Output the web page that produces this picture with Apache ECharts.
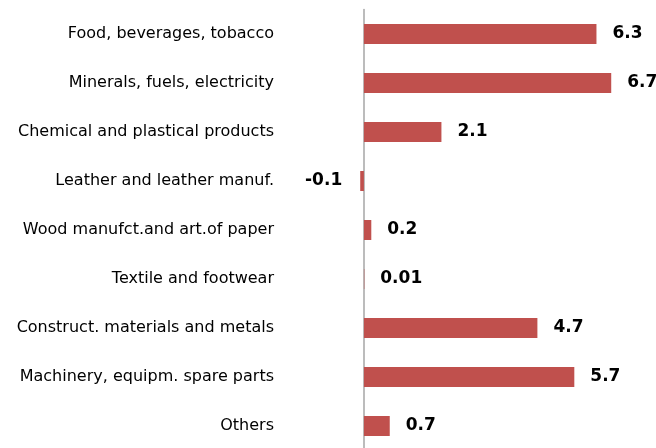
<!DOCTYPE html>
<html><head><meta charset="utf-8">
<script src="https://cdn.jsdelivr.net/npm/echarts@6/dist/echarts.min.js"></script>
<style>html,body{margin:0;padding:0;background:#fff}#c{width:656px;height:448px}</style>
</head><body><div id="c"></div>
<script>
const categories = [
  "Food, beverages, tobacco",
  "Minerals, fuels, electricity",
  "Chemical and plastical products",
  "Leather and leather manuf.",
  "Wood manufct.and art.of paper",
  "Textile and footwear",
  "Construct. materials and metals",
  "Machinery, equipm. spare parts",
  "Others"
];
const values = [6.3, 6.7, 2.1, -0.1, 0.2, 0.01, 4.7, 5.7, 0.7];

const chart = echarts.init(document.getElementById('c'));
chart.setOption({
  animation: false,
  backgroundColor: '#fff',
  grid: { left: 327, right: 33.7, top: 9.5, bottom: -2.5, containLabel: false, outerBoundsMode: 'none' },
  xAxis: {
    type: 'value', min: -1, max: 7, interval: 1,
    show: false
  },
  yAxis: {
    type: 'category', data: categories, inverse: true,
    axisLine: { show: true, onZero: true, lineStyle: { color: '#a6a6a6', width: 1.5 } },
    axisTick: { show: false },
    axisLabel: { margin: 53, color: '#000', fontFamily: 'DejaVu Sans', fontSize: 16 }
  },
  series: [{
    type: 'bar', barWidth: 20,
    itemStyle: { color: '#C0504D' },
    label: {
      show: true, position: 'right', distance: 16,
      color: '#000', fontFamily: 'DejaVu Sans', fontWeight: 'bold', fontSize: 17,
      formatter: p => String(p.value)
    },
    data: values.map(v => v < 0 ? { value: v, label: { position: 'left', distance: 18 } } : v)
  }]
});
</script></body></html>
